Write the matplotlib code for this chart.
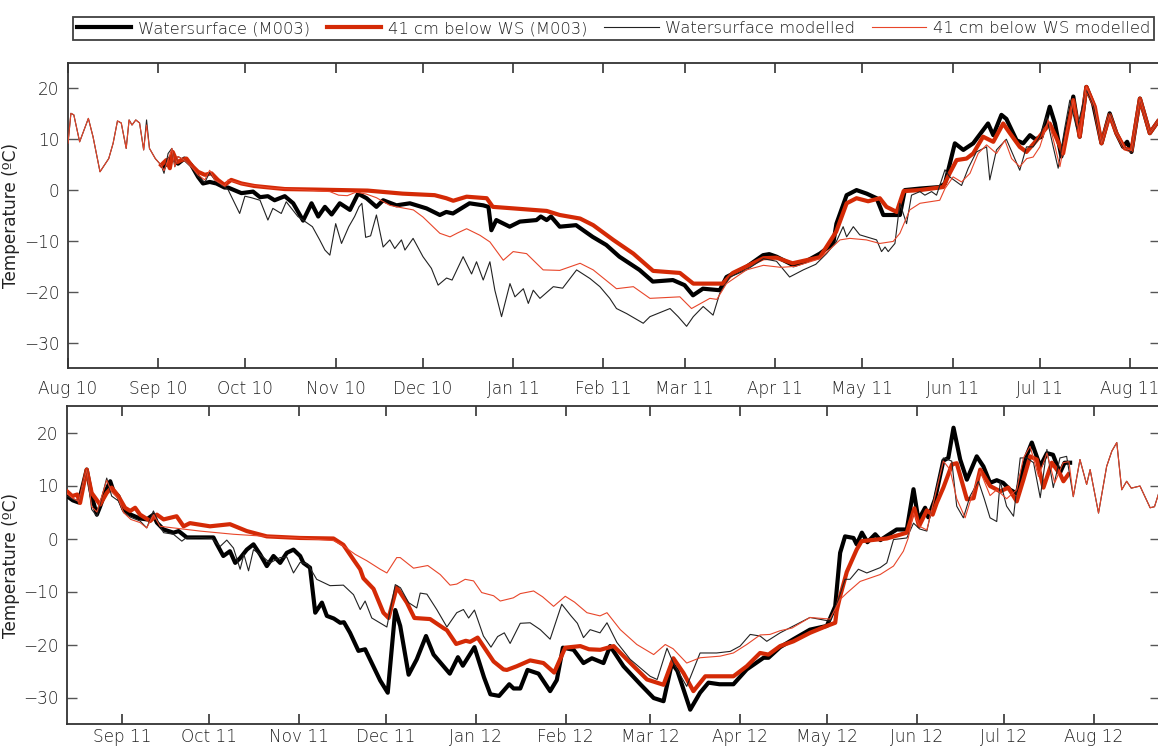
import numpy as np
import pandas as pd
import matplotlib
matplotlib.use("Agg")
import matplotlib.pyplot as plt
import matplotlib.dates as mdates
from matplotlib.lines import Line2D

plt.rcParams['font.family'] = ['DejaVu Sans']
plt.rcParams['font.weight'] = 'light'

# ---------------- Season 2010/11 (days since 2010-08-01) ----------------
top_start = "2010-08-01"

top_ws_obs_day = [33, 35.5, 37.8, 40, 42.4, 44.7, 46.4, 48.7, 51, 53.8, 55, 59.6, 63.6, 66, 68.7, 71, 74.5, 77.4, 80.8, 83.7, 86, 88.3, 90.6, 93.4, 96.9, 99.7, 102.6, 106, 108.3, 112.9, 117.5, 123.2, 127.8, 130, 132.3, 138, 142.7, 144.5, 145.5, 147.2, 151.8, 155.3, 161, 162.5, 164.5, 166, 169, 174.6, 180.3, 185, 189.5, 196.4, 201, 207.9, 211.9, 214.8, 218.2, 224, 226.3, 233.2, 238.9, 241, 243.5, 249.3, 254, 258.4, 263, 264.1, 267.6, 271, 274.5, 277.9, 280.2, 285.9, 287.6, 292.8, 299.6, 301.4, 304.8, 307.7, 311.1, 314.5, 316.2, 318, 320.8, 322.5, 326, 328.3, 330.6, 332.5, 334.6, 337.4, 339.2, 341.4, 345.5, 347.7, 350, 352.3, 355.2, 358, 360.3, 362.6, 364, 365.5, 368.4, 371.8, 374.6]
top_ws_obs_val = [4.6, 6.6, 5.2, 6.2, 4.9, 2.6, 1.3, 1.6, 1.3, 0.5, 0.5, -0.6, -0.3, -1.4, -1.2, -2, -1.2, -2.6, -6.0, -2.6, -5.2, -3.3, -4.8, -2.6, -3.9, -0.7, -1.6, -3.3, -2, -3, -2.6, -3.6, -4.9, -4.3, -4.6, -2.6, -3, -3.3, -7.9, -5.9, -7.2, -6.2, -5.9, -5.2, -5.9, -5.2, -7.2, -6.9, -9.2, -10.8, -13.1, -15.7, -18, -17.7, -18.7, -20.7, -19.4, -19.7, -17.1, -15.1, -12.8, -12.6, -13.1, -14.8, -13.9, -12.5, -10.5, -6.6, -1, 0, -0.7, -1.6, -4.9, -4.9, 0, 0.3, 0.6, 1.3, 9.2, 7.9, 9.2, 11.8, 13.1, 10.8, 14.8, 14, 9.8, 9.2, 10.8, 10, 10.5, 16.4, 13.1, 6.6, 18.4, 10.5, 20.3, 17, 9.2, 15.1, 11.2, 8.5, 9.5, 7.5, 18, 11.2, 13.5]

top_ws41_obs_day = [32, 33.8, 35, 36, 37.5, 39, 40.7, 42.4, 44.7, 47, 49.3, 51.5, 53.8, 56.1, 59.6, 64.1, 74.5, 85, 103, 115, 126, 130, 132.4, 137, 143.9, 146, 153, 164.5, 169, 176, 180.5, 187.4, 194.3, 201.1, 210.3, 214.9, 225, 228.5, 239, 243.5, 249, 258.4, 264, 267.6, 271, 275, 279, 281.3, 284.8, 287.2, 292.8, 300.8, 303, 305.4, 308.8, 311.1, 314.5, 318, 321.4, 323.7, 327.1, 329.4, 332.9, 337.4, 339.5, 342, 345.5, 347.7, 350, 352.9, 355.2, 358, 360.3, 363.2, 365.5, 368.4, 371.8, 374.6]
top_ws41_obs_val = [4.9, 5.9, 4.3, 7.5, 5.5, 5.9, 6.2, 4.9, 3.6, 3, 3.3, 2, 1, 2, 1.3, 0.8, 0.2, 0.1, -0.1, -0.7, -1, -1.6, -2.1, -1.3, -1.6, -3.3, -3.6, -4.1, -4.9, -5.6, -6.9, -9.8, -12.5, -15.9, -16.3, -18.4, -18.4, -16.3, -13.4, -13.3, -14.4, -13.2, -8.2, -2.6, -1.6, -2.2, -1.6, -3.3, -4.3, -0.2, 0, 0.6, 3.3, 5.9, 6.2, 7.2, 10.5, 9.5, 13.1, 11.2, 8.5, 7.5, 9.8, 13.1, 10.5, 7.2, 17.7, 10.5, 20.3, 16.4, 9.2, 14.8, 11.2, 8.2, 7.8, 18, 11.2, 13.5]

top_ws_mod_day = [0, 1, 2, 4, 7, 8.6, 11, 14, 15.5, 17, 18.3, 20, 21, 22, 23.3, 24.6, 26, 27, 28, 30, 32, 33, 34.4, 35.7, 36.7, 37.8, 40, 42.4, 44.7, 47, 48.7, 50.4, 53.8, 55, 59, 60.8, 63, 66, 68.7, 70.4, 73.3, 75, 79, 84, 86.5, 88.3, 90, 92, 94, 96.5, 98.5, 100, 101, 102.3, 104, 106, 108.3, 110.6, 112.3, 114.6, 115.8, 118.6, 122, 124.9, 127.2, 130.1, 132, 135.8, 138.7, 140.4, 142.7, 145, 146.7, 149, 151.9, 153.6, 156.5, 158.2, 159.9, 162.2, 166.8, 170, 174.8, 179.4, 182.8, 186.2, 188.5, 192, 197.7, 200, 206.9, 209.7, 212.6, 214.9, 218.3, 221.7, 224, 227.5, 233.2, 239, 243.5, 248, 252.7, 257, 260.7, 264, 266.4, 267.6, 269.9, 272.1, 277.9, 279.6, 280.8, 281.9, 284.2, 285.9, 288.2, 289.9, 292.8, 294.5, 296.8, 298.5, 301.4, 303, 307.1, 309.4, 312.2, 315.7, 316.8, 319.1, 322.5, 327.1, 329.4, 331.7, 334, 336.3, 338.6, 340.3, 342.5, 344.3, 346.7, 350, 352.3, 355.2, 358, 360.3, 362.6, 365.5, 368.4, 371.8, 374.6]
top_ws_mod_val = [9.2, 15.1, 14.8, 9.5, 14.1, 10.5, 3.6, 6.2, 9.2, 13.6, 13.2, 8.2, 13.8, 12.8, 13.8, 13.2, 7.9, 13.8, 8.2, 6.2, 4.9, 3.3, 7.2, 8.2, 4.6, 6.6, 5.9, 4.6, 2.6, 1.5, 3.5, 2, 0.6, 0.1, -4.6, -1.2, -1.5, -2, -5.9, -3.6, -4.6, -2.3, -5.2, -7.2, -9.8, -11.8, -12.8, -6.6, -10.5, -7.2, -5.2, -3.3, -2.6, -9.3, -9, -4.9, -11.2, -9.8, -11.5, -9.8, -11.8, -9.5, -13.1, -15.4, -18.7, -17.3, -17.7, -13.1, -16.5, -14.1, -17.7, -14.1, -19.7, -24.9, -18.4, -21, -19.4, -22.3, -19.7, -21.3, -19, -19.3, -15.7, -17.4, -19, -21.3, -23.3, -24.3, -26.2, -24.9, -23.3, -24.9, -26.8, -24.9, -22.9, -24.6, -20.3, -17.1, -15.7, -13.5, -14, -17.1, -15.7, -14.6, -12.5, -10.2, -7.2, -9.2, -7.2, -8.8, -9.8, -12.1, -11.2, -12.1, -10.5, -2.6, -6.6, -1, -0.3, -1, -0.3, -1, 4, 2.6, 0.9, 4.3, 7.5, 8.5, 2, 7.9, 10, 3.9, 8.5, 8.5, 10.5, 14.4, 8.5, 4.3, 12, 17.7, 12, 19.7, 17, 9.2, 15.1, 11.2, 8.5, 7.5, 18, 11.2, 13.5]

top_ws41_mod_day = [0, 1, 2, 4, 7, 8.6, 11, 14, 15.5, 17, 18.3, 20, 21, 22, 23.3, 24.6, 26, 27, 28, 30, 32, 33, 34.4, 35.7, 36.7, 37.8, 40, 42.4, 44.7, 47, 48.7, 50.4, 53.8, 55, 60, 70, 80, 90, 93, 96, 99, 102.6, 106, 110.6, 114, 118.7, 122, 127.8, 131.3, 134, 137, 141.6, 145, 149.6, 153, 157.6, 163.3, 169, 176, 180.5, 188.5, 194.3, 200, 210.3, 214.3, 220.6, 223, 226.3, 233.2, 239, 245, 250, 258.4, 265.3, 268.7, 274.4, 279, 283.6, 285.9, 289.3, 292.8, 299.6, 301.4, 304.2, 307.1, 310, 312.8, 315.7, 319.1, 322, 324.3, 327.1, 329.5, 331.7, 334, 336.9, 338.6, 340.9, 343, 345.5, 347.7, 350, 352.9, 355.2, 358, 360.3, 363.2, 365.5, 368.4, 371.8, 374.6]
top_ws41_mod_val = [9.2, 15.1, 14.8, 9.5, 14.1, 10.5, 3.6, 6.2, 9.2, 13.6, 13.2, 8.2, 13.8, 12.8, 13.8, 13.2, 7.9, 12.8, 8.2, 6.2, 4.9, 3.8, 5.9, 8.2, 4.6, 6.6, 5.9, 4.6, 3.0, 2.0, 3.9, 2.0, 0.8, 2.0, 1.2, 0.4, 0.1, -0.3, -1.0, -1.1, -0.4, -0.8, -1.5, -3.0, -3.4, -3.9, -5.3, -8.5, -9.2, -8.4, -7.6, -8.9, -10.2, -13.8, -12.1, -12.5, -15.7, -15.8, -14.4, -15.7, -19.4, -19.0, -21.3, -21, -23.3, -21.3, -21.5, -18.4, -15.7, -14.8, -15.2, -15, -13.5, -9.8, -9.5, -9.8, -10.5, -10.1, -8.5, -3.9, -2.6, -2, 0.3, 2.6, 1.6, 3.3, 7.2, 8.9, 7.2, 9.8, 6.2, 4.6, 6.2, 6.5, 8.5, 13.8, 10, 4.6, 11, 17.7, 10.5, 20.3, 16.4, 9.2, 14.8, 11.2, 8.2, 7.8, 18, 11.2, 13.5]

# ---------------- Season 2011/12 (days since 2011-08-01) ----------------
bot_start = "2011-08-01"

bot_ws_obs_day = [12, 14, 16, 18.8, 20.5, 22.3, 23.4, 25, 26.9, 28, 29.7, 31.5, 34, 37, 39.5, 41.8, 43, 45.3, 48.7, 50.5, 53.3, 62.5, 63.6, 65.9, 68.2, 70, 71.7, 74, 76.3, 78.6, 80.9, 83.2, 85.5, 87.8, 90.1, 92.4, 93.5, 95.8, 97.6, 99.9, 101.6, 104, 106.2, 107.5, 109.6, 112.5, 114.8, 117.1, 120, 122.6, 125.2, 126.9, 129.8, 132.6, 135.8, 138.4, 141.8, 144, 146.8, 148.5, 152.5, 155.8, 158, 161, 164.5, 166, 168.3, 170.8, 174.6, 178.6, 180.9, 183, 186.7, 190.1, 193, 197, 199.3, 203.9, 209.7, 214.3, 217.7, 220.6, 222.5, 226.9, 230.3, 233.2, 237, 241.8, 246.4, 252.2, 253.9, 257.9, 262.5, 268.2, 274, 276.9, 278.6, 280.3, 283.2, 284.3, 286.1, 288, 290.7, 292.5, 294.7, 298.1, 301.6, 303.9, 305.6, 307.9, 309, 311.3, 314.2, 315.9, 317.7, 320, 322.3, 325.7, 328, 330.3, 332.6, 334.8, 337.2, 339.5, 343, 344.7, 347.6, 349.9, 352, 354.4, 356, 357.9]
bot_ws_obs_val = [8, 7.2, 6.8, 13, 8, 4.5, 6, 8.5, 10.8, 9, 8, 5.5, 4.5, 3.8, 3.6, 4.5, 3, 1.7, 1.1, 1.4, 0.2, 0.2, -1, -3.3, -2.4, -4.6, -3.7, -2.1, -1.1, -3, -5.2, -3.3, -4.6, -2.7, -2.1, -3.3, -4.6, -5.5, -14, -12.1, -14.6, -15.1, -15.9, -15.8, -17.8, -21.2, -20.9, -23.5, -26.8, -29.1, -13.5, -16.5, -25.7, -22.8, -18.4, -21.9, -24.1, -25.5, -22.4, -24, -20.5, -26.2, -29.4, -29.7, -27.5, -28.3, -28.3, -24.8, -25.5, -28.8, -26.7, -20.6, -21, -23.5, -22.6, -23.5, -20.3, -24.1, -27.5, -30.1, -30.7, -23.5, -25, -32.3, -29.1, -27.2, -27.5, -27.5, -24.7, -22.5, -22.5, -20.5, -19, -17.2, -16.5, -12.8, -2.7, 0.4, 0.1, -1.1, 1.1, -0.7, 0.8, -0.3, 0.5, 1.7, 1.7, 9.3, 3.5, 5.8, 4, 7.4, 14.7, 15.2, 20.9, 14.9, 11.1, 15.5, 13.6, 10.5, 11, 10.5, 9.2, 8.5, 15.8, 18.1, 13.6, 16.1, 15.8, 12.4, 14.3, 14.3]

bot_ws41_obs_day = [12, 13.8, 15.5, 16.5, 18.8, 20.5, 23.4, 25.7, 27.4, 29.7, 32, 33.8, 35.5, 37.2, 40.7, 43, 45.3, 49.8, 52.2, 54.4, 61.3, 68.2, 74, 80.9, 92.4, 103.9, 107.3, 110.8, 113.1, 114.2, 117.7, 121.1, 122.9, 125.7, 129.2, 131.8, 137.2, 141.8, 143, 146.2, 149.5, 151, 153.6, 159.1, 162.5, 163.7, 167.1, 171.7, 176.3, 180, 183.8, 189, 192, 195.9, 200.5, 207.4, 212, 217.7, 221.1, 224.6, 228, 232.1, 241.8, 246.4, 251, 253.9, 257.9, 262.5, 268.2, 274, 276.9, 277.4, 278.6, 280.9, 284.3, 286, 287.8, 294.7, 301.6, 304.2, 305.8, 308.5, 310.5, 311.9, 314.2, 317.2, 318.8, 322.3, 324.6, 326.9, 330.3, 333.8, 336.6, 339.5, 341.8, 344.1, 346.4, 348.7, 351.6, 354.5, 355.6, 357.3]
bot_ws41_obs_val = [8.9, 8, 8.3, 6.7, 13, 8.6, 6.4, 8.6, 9.6, 8, 5.8, 5.2, 5.8, 4.5, 3.3, 4.5, 3.6, 4.2, 2.3, 2.9, 2.3, 2.7, 1.4, 0.4, 0.1, 0, -1.2, -4, -5.8, -7.5, -9.5, -14, -15, -9.2, -12.1, -15, -15.2, -16.9, -17.3, -19.9, -19.3, -19.5, -18.7, -23.2, -24.7, -24.8, -24.1, -23, -23.5, -25.3, -20.6, -20.3, -20.9, -21, -20.3, -24.1, -26.6, -27.6, -22.6, -25.4, -28.8, -26, -26, -24.1, -21.6, -21.9, -20.3, -19.4, -17.8, -16.5, -15.9, -13.7, -10.9, -6.3, -2.1, -0.5, -0.4, 0, 1.1, 5.7, 2.3, 5.3, 4.5, 6.7, 9.6, 14, 14.2, 7.4, 7.6, 13, 9.9, 8.9, 9.6, 7, 11.1, 15.5, 14.9, 9.6, 14.3, 12.1, 10.8, 12.1]

bot_ws_mod_day = [12, 14, 16, 18.8, 20.5, 22.3, 25.7, 27.4, 29.7, 31.5, 34, 37.2, 39.5, 41.8, 43.5, 45.3, 48.7, 51.6, 53, 57.9, 62, 64.8, 67.1, 69.4, 71.7, 73, 74.6, 76.3, 79, 82, 85.5, 87.8, 90.1, 92.4, 95, 98.1, 102.7, 107.3, 110.8, 113.1, 114.8, 117.1, 122.3, 125.2, 127, 129.8, 132.6, 133.8, 136.1, 139.5, 143, 146.4, 148.7, 150.5, 152.5, 155.6, 158.2, 160.5, 162.8, 164.8, 168.3, 171.7, 175.2, 178.6, 182.6, 185.8, 188, 190.1, 192.4, 195.8, 198.2, 201.6, 206.2, 213.1, 215.5, 218.9, 221.1, 225.7, 230.3, 236, 240.7, 244.1, 247.6, 251, 253.3, 257.9, 262.5, 268.2, 275.1, 278, 280.3, 282, 284.9, 287.8, 292.4, 294.7, 297, 301.6, 303.9, 306, 308.5, 310.8, 314.2, 317.1, 318.8, 321.1, 323.4, 326.3, 328.3, 330.3, 332.6, 333.8, 336, 338.4, 340.7, 343, 345.3, 347.6, 349.9, 352.1, 354.4, 356.7, 359, 361.3, 363.6, 364.8, 367.7, 370.5, 372.3, 374, 375.7, 377.4, 379, 382, 385.5, 387, 388.5, 390]
bot_ws_mod_val = [8, 7.4, 7, 13, 5.5, 4.2, 11.4, 8, 7.1, 4.9, 4, 3.3, 2, 5.2, 3, 1.1, 0.8, -0.5, 0.1, 0.2, 0, -1.5, -0.3, -1.8, -5.8, -3, -6.1, -2.1, -3.2, -4.6, -3.6, -3.5, -6.5, -4.5, -4.8, -7.7, -8.9, -8.8, -10.6, -13.4, -11.8, -15, -16.7, -8.7, -9.3, -12.1, -13.1, -10.3, -10.5, -13.4, -16.7, -14, -13.4, -15, -13.5, -18.4, -20.5, -18.5, -17.8, -19.8, -16, -15.9, -17.2, -19, -12.4, -14.6, -16, -18.7, -17.2, -17.8, -15.9, -19.6, -22.8, -26, -26.6, -20.7, -23.5, -27.9, -21.6, -21.6, -21.3, -20.3, -18.1, -18.4, -19.4, -17.8, -16.5, -14.9, -15.6, -11.5, -7.7, -7.7, -5.8, -6.5, -5.5, -4.6, -0.2, 0.1, 2.9, 1.8, 1.4, 7.1, 15.2, 14.6, 6.1, 3.9, 8, 10.8, 7.5, 3.9, 3.2, 10.8, 6.1, 4.2, 15.2, 15.2, 14.3, 7.7, 16.8, 9.6, 15.2, 15.5, 7.9, 14.9, 10.2, 13, 4.8, 13.6, 16.5, 18.1, 9.2, 10.8, 9.5, 9.9, 5.8, 6, 8.6, 9]

bot_ws41_mod_day = [12, 14, 16, 18.8, 20.5, 22.3, 25.7, 27.4, 29.7, 31.5, 34, 37.2, 39.5, 41.8, 44.1, 48.7, 57.9, 69.4, 80.9, 92.4, 103.9, 107.3, 111.4, 115.4, 120, 122.3, 125.7, 126.9, 131.5, 136.4, 140.7, 144.1, 146.4, 149.3, 152.2, 155, 159.1, 161.4, 165.9, 168.3, 172.9, 176, 179.8, 183.8, 187, 191.3, 195.8, 198.2, 202.8, 208.5, 214.3, 218.3, 221, 225.7, 230.3, 237.2, 241.8, 246.4, 251, 254.4, 257.9, 262, 268.2, 275.1, 278.6, 280.9, 285.5, 292.4, 297, 300.4, 302.1, 303.9, 306, 308.5, 310.8, 314.2, 316.5, 318.8, 321.7, 324, 326.9, 330.3, 332.6, 336, 339.5, 341.8, 344.1, 347, 349.9, 352.6, 355.5, 357.5, 359, 361.3, 363.6, 364.8, 367.7, 370.5, 372.3, 374, 375.7, 377.4, 379, 382, 385.5, 387, 388.5, 390]
bot_ws41_mod_val = [8.5, 7.6, 7, 13, 6, 5, 11, 8.8, 7.5, 4.9, 3.6, 3, 2, 4.5, 2.3, 2, 1.4, 0.8, 0.4, 0.1, -0.4, -1.4, -3, -4.2, -5.8, -6.5, -3.6, -3.6, -5.6, -5.1, -6.8, -8.8, -8.6, -7.7, -8, -10.2, -10.8, -11.8, -11.2, -10.4, -9.9, -11, -12.8, -10.9, -12, -14, -14.6, -14, -17.2, -20, -21.9, -20, -20.8, -23.5, -22.5, -22.2, -21.6, -20, -18.2, -18.1, -17.4, -16.9, -14.9, -15.2, -11.5, -10.3, -8.1, -6.8, -5.2, -2.4, 0.1, 4.8, 2.3, 1.6, 6.8, 14.6, 13, 7.5, 3.9, 8, 12.7, 8.1, 9.2, 7.5, 9.2, 15.2, 17.4, 11.7, 16.1, 10.5, 14.3, 14.5, 7.9, 14.9, 10.2, 13, 4.8, 13.6, 16.5, 18.1, 9.2, 10.8, 9.5, 9.9, 5.8, 6, 8.6, 9]

legend_labels = ["Watersurface (M003)", "41 cm below WS (M003)",
                 "Watersurface modelled", "41 cm below WS modelled"]
y_ticks = [20, 10, 0, -10, -20, -30]

BLACK = "#000000"
RED = "#d42a06"
RED_THIN = "#e8462a"
STYLES = [dict(color=BLACK, lw=3.0, zorder=3),
          dict(color=RED, lw=3.0, zorder=4),
          dict(color="#222222", lw=0.8, zorder=5),
          dict(color=RED_THIN, lw=0.8, zorder=6)]
FS = 12.2
LEG_FS = 11.8


def to_dates(start, days):
    return pd.Timestamp(start) + pd.to_timedelta(np.asarray(days, float), unit="D")


def style_axes(ax, start, d0, d1, xpad):
    ax.set_xlim(to_dates(start, [d0])[0], to_dates(start, [d1])[0])
    ax.set_ylim(-35, 25)
    ax.set_yticks(y_ticks)
    ax.xaxis.set_major_locator(mdates.MonthLocator())
    ax.xaxis.set_major_formatter(mdates.DateFormatter("%b %y"))
    ax.tick_params(axis="x", direction="in", length=7, width=1.2, top=True,
                   pad=xpad, labelsize=FS, colors="#333333", labelcolor="#222222")
    ax.tick_params(axis="y", direction="in", length=7, width=1.0, right=True,
                   pad=6, labelsize=FS, colors="#555555", labelcolor="#222222")
    for s in ax.spines.values():
        s.set_linewidth(1.3)
        s.set_color("#333333")
    ax.set_ylabel("Temperature (ºC)", fontsize=FS, color="#222222")


fig = plt.figure(figsize=(11.58, 7.48), dpi=100)
W, H = 1158, 748
ax1 = fig.add_axes([68 / W, 1 - 368 / H, (1160 - 68) / W, 305 / H])
ax2 = fig.add_axes([67 / W, 1 - 724 / H, (1160 - 67) / W, 318 / H])

top_series = [(top_ws_obs_day, top_ws_obs_val), (top_ws41_obs_day, top_ws41_obs_val),
              (top_ws_mod_day, top_ws_mod_val), (top_ws41_mod_day, top_ws41_mod_val)]
bot_series = [(bot_ws_obs_day, bot_ws_obs_val), (bot_ws41_obs_day, bot_ws41_obs_val),
              (bot_ws_mod_day, bot_ws_mod_val), (bot_ws41_mod_day, bot_ws41_mod_val)]

for (d, v), st in zip(top_series, STYLES):
    ax1.plot(to_dates(top_start, d), v, solid_joinstyle="round", **st)
for (d, v), st in zip(bot_series, STYLES):
    ax2.plot(to_dates(bot_start, d), v, solid_joinstyle="round", **st)

style_axes(ax1, top_start, 0, 375.3, 9)
style_axes(ax2, bot_start, 12.0, 388.9, 3)
# y-label centred about 20 px from the figure's left edge
ax1.yaxis.set_label_coords((20 - 68) / (1160 - 68), 0.5)
ax2.yaxis.set_label_coords((20 - 67) / (1160 - 67), 0.5)

handles = [Line2D([], [], **{k: v for k, v in st.items() if k != "zorder"}) for st in STYLES]
leg = fig.legend(handles, legend_labels, loc="upper left", ncol=4,
                 bbox_to_anchor=(73 / W, 1 - 17 / H), frameon=True, fancybox=False,
                 fontsize=LEG_FS, handlelength=3.3, columnspacing=1.05, handletextpad=0.4,
                 borderpad=0.25, borderaxespad=0)
leg.get_frame().set_edgecolor("#111111")
leg.get_frame().set_linewidth(1.3)
for t in leg.get_texts():
    t.set_color("#222222")

fig.savefig("out.png", dpi=100)
